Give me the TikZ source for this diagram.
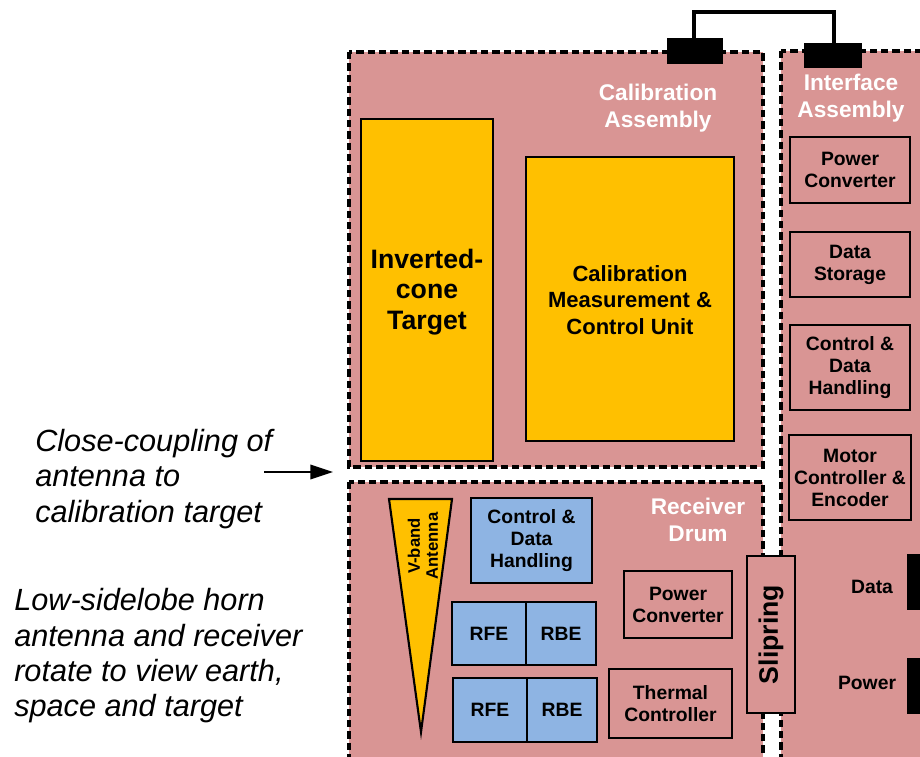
\documentclass[tikz,border=0pt]{standalone}
\usepackage{fontspec}
\setmainfont{Liberation Sans}
\usetikzlibrary{arrows.meta}
\definecolor{pinkfill}{HTML}{D99594}
\definecolor{amber}{HTML}{FFC000}
\definecolor{bluefill}{HTML}{8EB4E3}
\tikzset{
  assembly/.style={draw=black, fill=pinkfill, line width=2.4pt, dash pattern=on 5.5pt off 3pt},
  headlbl/.style={text=white, font=\fontsize{17}{20}\selectfont\bfseries, align=center, inner sep=0pt},
  ambox/.style={draw=black, fill=amber, line width=1.6pt},
  bluebox/.style={draw=black, fill=bluefill, line width=1.6pt},
  pinkbox/.style={draw=black, fill=pinkfill, line width=1.6pt},
  boxlbl/.style={font=\fontsize{14.5}{16.5}\selectfont\bfseries, align=center, inner sep=0pt},
  tab/.style={fill=black, draw=none},
  note/.style={font=\fontsize{23}{26.5}\selectfont\itshape, align=left, inner sep=0pt, anchor=west},
}
\begin{document}
\begin{tikzpicture}[x=0.75pt,y=-0.75pt]
\useasboundingbox[fill=white] (0,0) rectangle (920,756);

% assemblies
\draw[assembly] (349,52) rectangle (763,467);
\draw[assembly] (349,482) rectangle (763,790);
\draw[assembly] (781,51) rectangle (940,790);

% connector tabs and wire
\fill[tab] (667,38) rectangle (723,64);
\fill[tab] (804,43) rectangle (862,68);
\coordinate (w1) at (694,38);
\coordinate (w2) at (834,43);
\draw[line width=3.4pt, line join=miter] (w1) -- (694,12) -- (834,12) -- (w2);

% labels of assemblies
\node[headlbl] (calLbl) at (658,108) {Calibration\\Assembly};
\node[headlbl] (ifLbl) at (851,98) {Interface\\Assembly};
\node[headlbl] (drLbl) at (698,520) {Receiver\\Drum};

% calibration content
\draw[ambox] (361,119) rectangle (493,461);
\node[font=\fontsize{20}{23}\selectfont\bfseries, align=center, inner sep=0pt] (cone) at (427,292) {Inverted-\\cone\\Target};
\draw[ambox] (526,157) rectangle (734,441);
\node[font=\fontsize{16.5}{20}\selectfont\bfseries, align=center, inner sep=0pt] (cmcu) at (630,300) {Calibration\\Measurement \&\\Control Unit};

% interface content
\draw[pinkbox] (790,137) rectangle (910,203);
\node[boxlbl] (ipc) at (850,170) {Power\\Converter};
\draw[pinkbox] (790,232) rectangle (910,297);
\node[boxlbl] (ids) at (850,264.5) {Data\\Storage};
\draw[pinkbox] (790,325) rectangle (910,410);
\node[boxlbl] (icdh) at (850,367.5) {Control \&\\Data\\Handling};
\draw[pinkbox] (789,435) rectangle (911,520);
\node[boxlbl] (imce) at (850,477.5) {Motor\\Controller \&\\Encoder};

\fill[tab] (907,554) rectangle (925,610);
\fill[tab] (907,658) rectangle (925,714);
\node[boxlbl] (dataLbl) at (872,587) {Data};
\node[boxlbl] (powLbl) at (867,683) {Power};

% slipring
\draw[pinkbox] (747,556) rectangle (795,713);
\node[font=\fontsize{20}{22}\selectfont\bfseries, rotate=90, inner sep=0pt] (slip) at (771,634.5) {Slipring};

% drum content
\draw[ambox, line join=miter] (389,499) -- (452,499) -- (421,732) -- cycle;
\node[font=\fontsize{12.5}{13.5}\selectfont\bfseries, rotate=90, align=center, inner sep=0pt] (ant) at (423,546) {V-band\\Antenna};

\draw[bluebox] (471,498) rectangle (592,583);
\node[boxlbl] (dcdh) at (531.5,540.5) {Control \&\\Data\\Handling};

\draw[bluebox] (452,602) rectangle (526,665);
\draw[bluebox] (526,602) rectangle (596,665);
\node[boxlbl] (rfe1) at (489,633.5) {RFE};
\node[boxlbl] (rbe1) at (561,633.5) {RBE};
\draw[bluebox] (453,678) rectangle (527,742);
\draw[bluebox] (527,678) rectangle (597,742);
\node[boxlbl] (rfe2) at (490,710) {RFE};
\node[boxlbl] (rbe2) at (562,710) {RBE};

\draw[pinkbox] (624,571) rectangle (732,638);
\node[boxlbl] (dpc) at (678,604.5) {Power\\Converter};
\draw[pinkbox] (609,669) rectangle (732,738);
\node[boxlbl] (dtc) at (670.5,703.5) {Thermal\\Controller};

% notes
\node[note] (n1) at (35,479) {Close-coupling of\\antenna to\\calibration target};
\node[note] (n2) at (14,656) {Low-sidelobe horn\\antenna and receiver\\rotate to view earth,\\space and target};
\coordinate (arrS) at (264,472);
\coordinate (arrE) at (333,472);
\draw[line width=1.1pt, -{Triangle[length=17pt,width=11pt]}] (arrS) -- (arrE);
\end{tikzpicture}
\end{document}
